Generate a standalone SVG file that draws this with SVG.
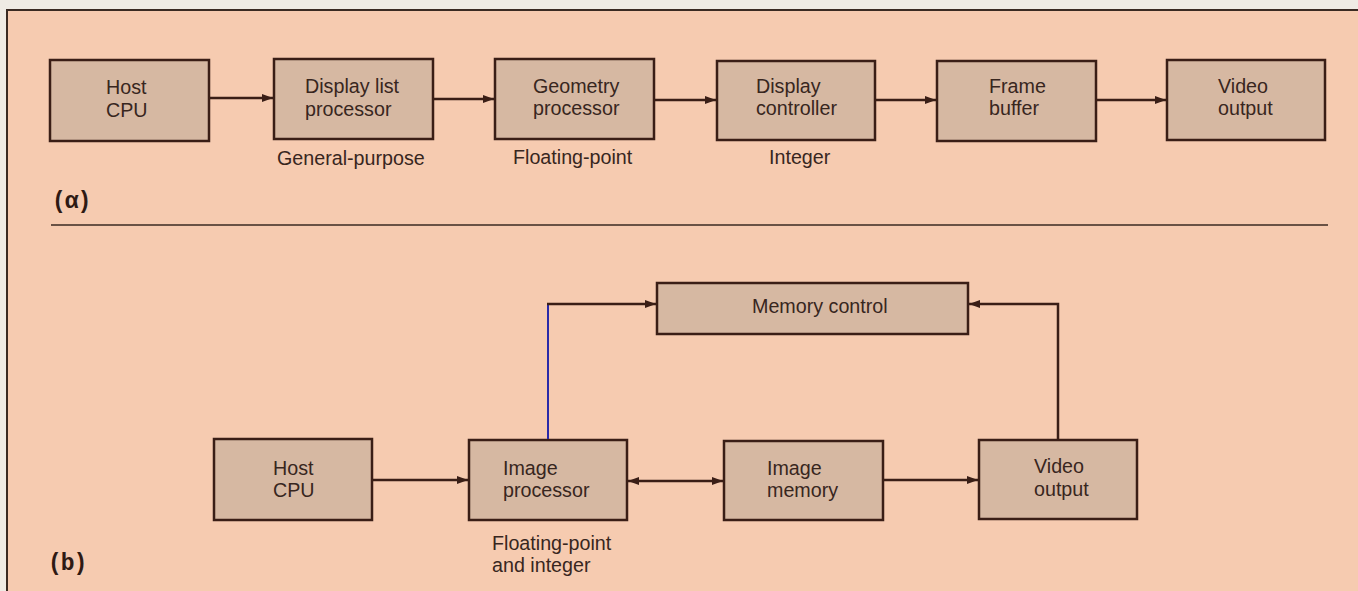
<svg xmlns="http://www.w3.org/2000/svg" width="1358" height="591" viewBox="0 0 1358 591">
  <defs>
    <marker id="head" viewBox="0 0 11 8" refX="11" refY="4" markerWidth="11" markerHeight="8" markerUnits="userSpaceOnUse" orient="auto-start-reverse">
      <path d="M0,0 L11,4 L0,8 Z" fill="#3a1e16"/>
    </marker>
  </defs>
  <style>
    .box { fill: #d6b8a2; stroke: #3a1e16; stroke-width: 2.5; }
    .lbl { font-family: "Liberation Sans", Arial, sans-serif; font-size: 19.7px; fill: #38261e; }
    .note { font-family: "Liberation Sans", Arial, sans-serif; font-size: 19.7px; fill: #38261e; }
    .tag { font-family: "Liberation Mono", "Courier New", monospace; font-size: 23px; font-weight: bold; fill: #2e1a14; letter-spacing: -1px; }
    .wire { fill: none; stroke: #3a1e16; stroke-width: 2.5; }
  </style>

  <!-- paper and frame -->
  <rect x="0" y="0" width="1358" height="591" fill="#efebe4"/>
  <rect x="7" y="10" width="1360" height="590" fill="#f6cbb0" stroke="#3a2a22" stroke-width="2"/>
  <line x1="51" y1="225" x2="1328" y2="225" stroke="#3a2a22" stroke-width="1.6"/>

  <!-- panel (a) -->
  <g id="a-host">
    <rect class="box" x="50" y="60" width="159" height="81"/>
    <text class="lbl" x="106" y="94">Host</text>
    <text class="lbl" x="106" y="117">CPU</text>
  </g>
  <g id="a-dlp">
    <rect class="box" x="274" y="59" width="159" height="80"/>
    <text class="lbl" x="305" y="93">Display list</text>
    <text class="lbl" x="305" y="116">processor</text>
    <text class="note" x="277" y="165">General-purpose</text>
  </g>
  <g id="a-geom">
    <rect class="box" x="495" y="59" width="159" height="80"/>
    <text class="lbl" x="533" y="93">Geometry</text>
    <text class="lbl" x="533" y="115">processor</text>
    <text class="note" x="513" y="164">Floating-point</text>
  </g>
  <g id="a-dc">
    <rect class="box" x="717" y="61" width="158" height="79"/>
    <text class="lbl" x="756" y="93">Display</text>
    <text class="lbl" x="756" y="115">controller</text>
    <text class="note" x="769" y="164">Integer</text>
  </g>
  <g id="a-fb">
    <rect class="box" x="937" y="61" width="159" height="80"/>
    <text class="lbl" x="989" y="93">Frame</text>
    <text class="lbl" x="989" y="115">buffer</text>
  </g>
  <g id="a-vo">
    <rect class="box" x="1167" y="60" width="158" height="80"/>
    <text class="lbl" x="1218" y="93">Video</text>
    <text class="lbl" x="1218" y="115">output</text>
  </g>
  <text class="tag" x="52" y="208">(α)</text>

  <!-- panel (b) -->
  <g id="b-host">
    <rect class="box" x="214" y="439" width="158" height="81"/>
    <text class="lbl" x="273" y="475">Host</text>
    <text class="lbl" x="273" y="497">CPU</text>
  </g>
  <g id="b-ip">
    <rect class="box" x="469" y="440" width="158" height="80"/>
    <text class="lbl" x="503" y="475">Image</text>
    <text class="lbl" x="503" y="497">processor</text>
    <text class="note" x="492" y="550">Floating-point</text>
    <text class="note" x="492" y="572">and integer</text>
  </g>
  <g id="b-mc">
    <rect class="box" x="657" y="283" width="311" height="51"/>
    <text class="lbl" x="752" y="313">Memory control</text>
  </g>
  <g id="b-im">
    <rect class="box" x="724" y="441" width="159" height="79"/>
    <text class="lbl" x="767" y="475">Image</text>
    <text class="lbl" x="767" y="497">memory</text>
  </g>
  <g id="b-vo">
    <rect class="box" x="979" y="440" width="158" height="79"/>
    <text class="lbl" x="1034" y="473">Video</text>
    <text class="lbl" x="1034" y="496">output</text>
  </g>
  <text class="tag" x="48" y="570">(b)</text>

  <!-- connectors -->
  <g id="connectors">
    <line class="wire" x1="209" y1="98" x2="273" y2="98" marker-end="url(#head)"/>
    <line class="wire" x1="433" y1="99" x2="494" y2="99" marker-end="url(#head)"/>
    <line class="wire" x1="654" y1="100" x2="716" y2="100" marker-end="url(#head)"/>
    <line class="wire" x1="875" y1="100" x2="936" y2="100" marker-end="url(#head)"/>
    <line class="wire" x1="1096" y1="100" x2="1166" y2="100" marker-end="url(#head)"/>

    <line class="wire" x1="372" y1="480" x2="468" y2="480" marker-end="url(#head)"/>
    <line class="wire" x1="628" y1="481" x2="723" y2="481" marker-start="url(#head)" marker-end="url(#head)"/>
    <line class="wire" x1="883" y1="480" x2="978" y2="480" marker-end="url(#head)"/>

    <line x1="548" y1="439" x2="548" y2="304" stroke="#2a2aa8" stroke-width="2"/>
    <line class="wire" x1="547" y1="304" x2="656" y2="304" marker-end="url(#head)"/>
    <polyline class="wire" points="1058,439 1058,304 969,304" marker-end="url(#head)"/>
  </g>
</svg>
